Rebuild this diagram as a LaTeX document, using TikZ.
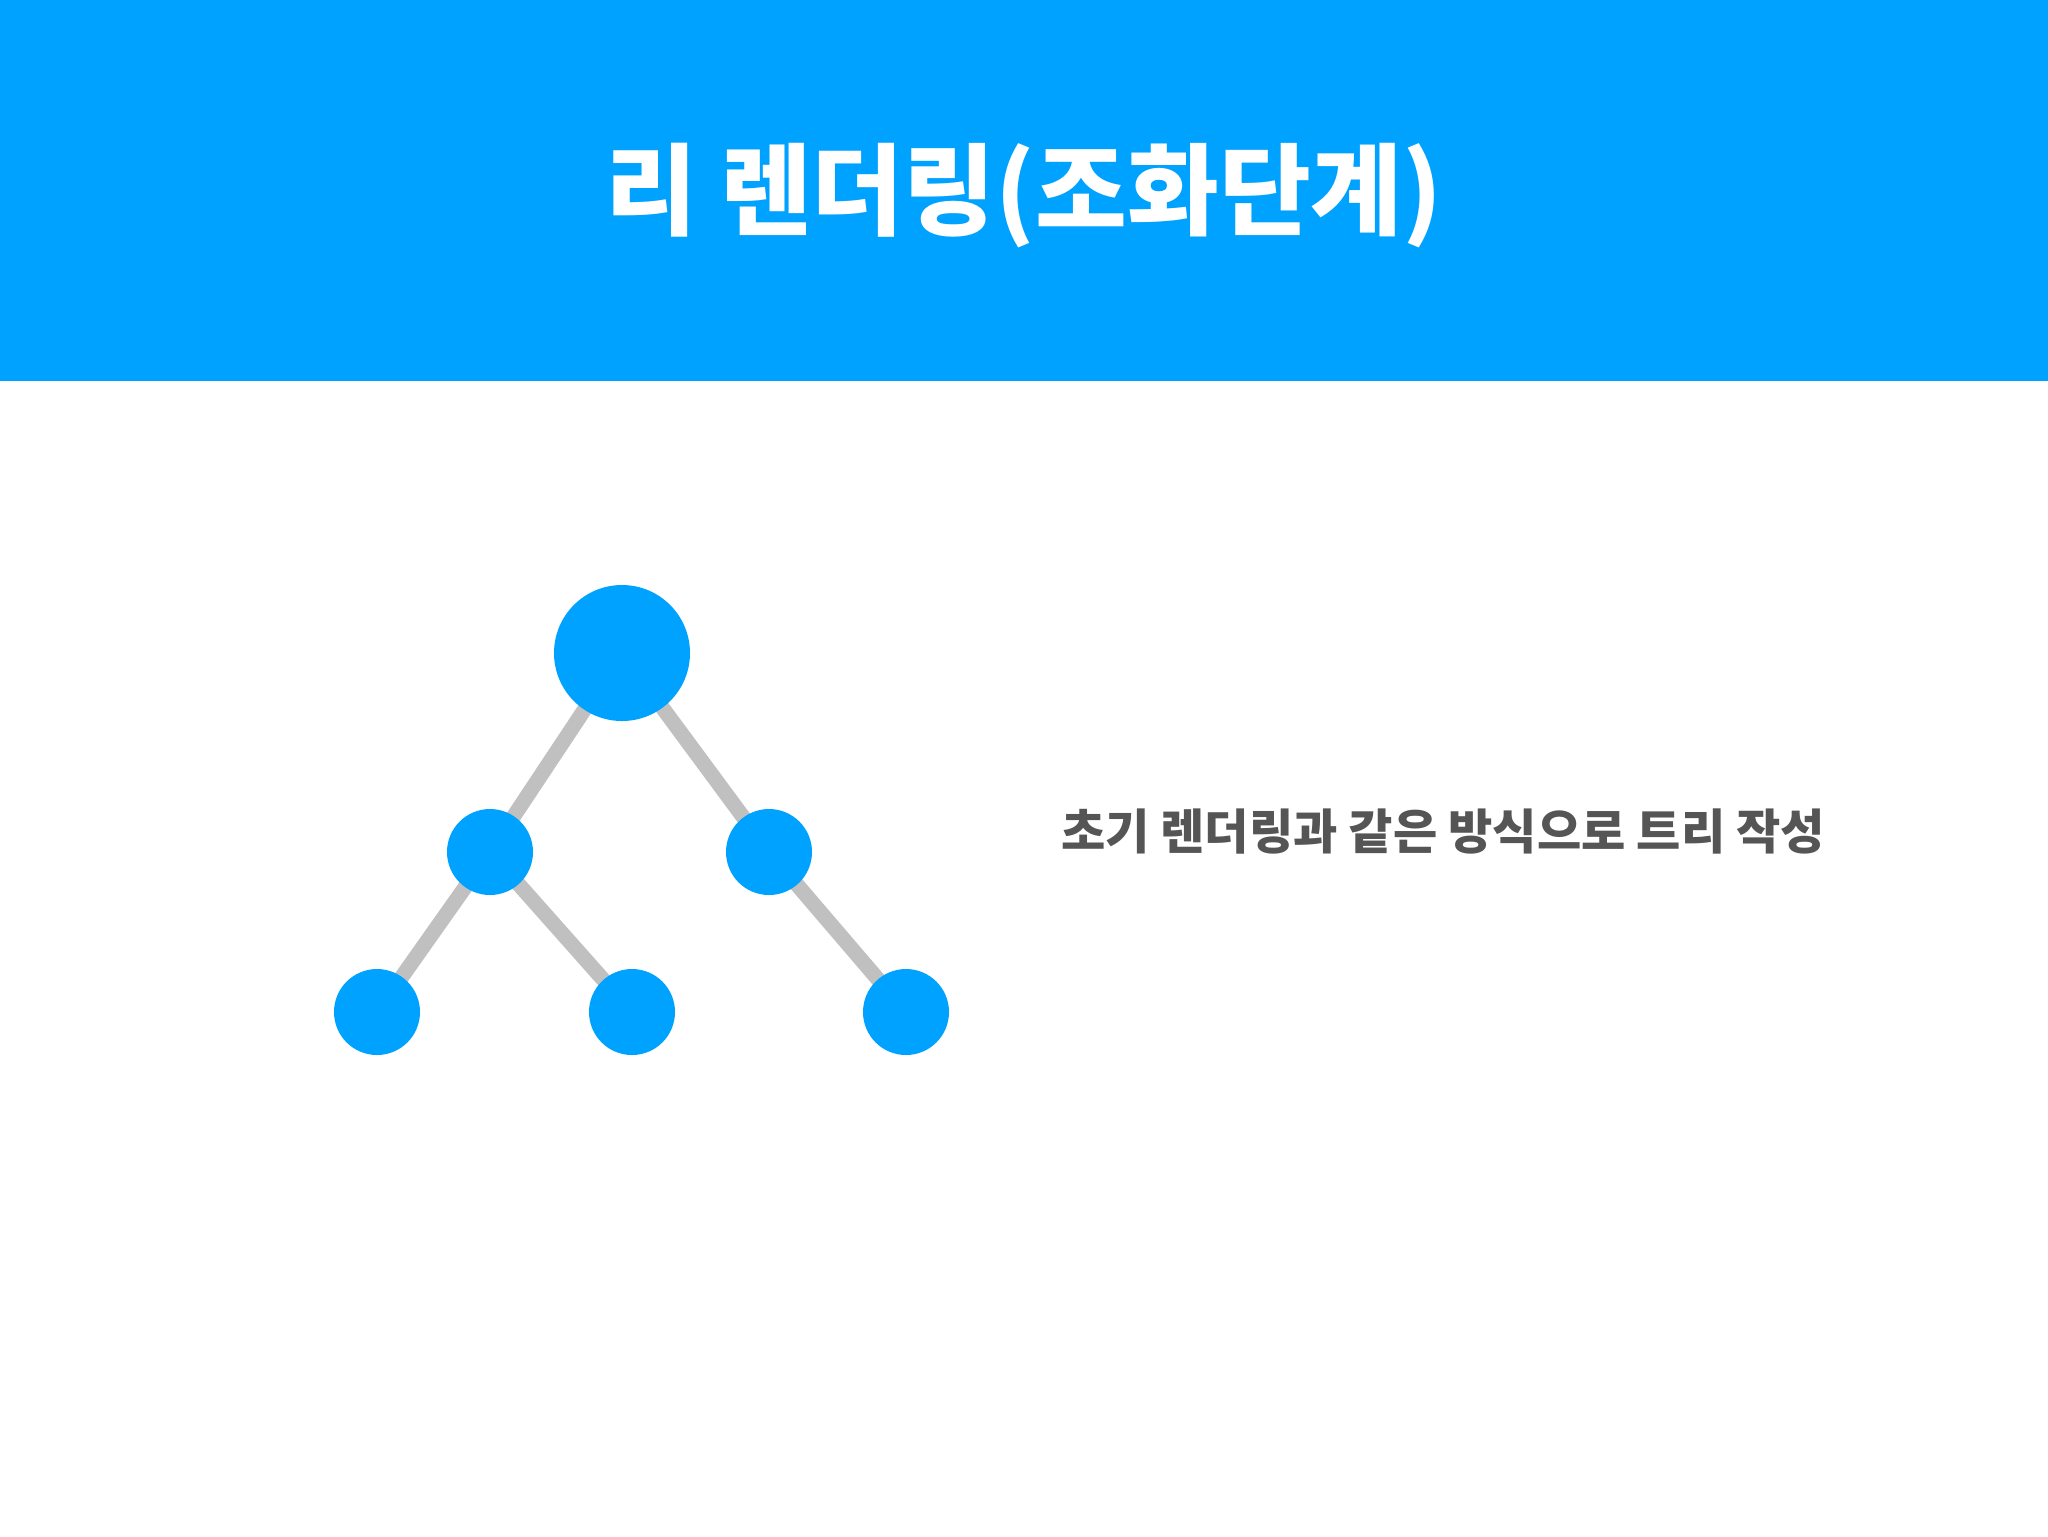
\documentclass[tikz,border=0pt]{standalone}
\usepackage{fontspec}
\setmainfont{Noto Sans CJK KR}
\usepackage{xcolor}
\definecolor{reactblue}{RGB}{0,162,255}
\definecolor{edgegray}{RGB}{192,192,192}
\definecolor{textgray}{RGB}{85,85,85}
\tikzset{
  treenode/.style = {circle, inner sep=0pt, fill=reactblue, draw=none},
  big_n/.style = {treenode, minimum size=13.6mm},% racine
  small_n/.style = {treenode, minimum size=8.6mm},% noeud
  tree_e/.style = {draw=edgegray, line width=1.5mm},% lien
  titletext/.style = {font=\bfseries\fontsize{28.4}{34}\selectfont, text=white},
  bodytext/.style = {font=\bfseries\fontsize{13.7}{16}\selectfont, text=textgray}
}

\begin{document}
\begin{tikzpicture}[x=0.1mm,y=-0.1mm]
    \useasboundingbox (0,0) rectangle (2048,1536);
    \fill[white] (0,0) rectangle (2048,1536);
    \fill[reactblue] (0,0) rectangle (2048,381);
    \node[titletext] (title) at (1024,196) {리 렌더링(조화단계)};
    \node[bodytext] (desc) at (1443,831) {초기 렌더링과 같은 방식으로 트리 작성};

    \coordinate (p_r) at (622,653);
    \coordinate (p_a) at (490,852);
    \coordinate (p_b) at (769,852);
    \coordinate (p_c) at (377,1012);
    \coordinate (p_d) at (632,1012);
    \coordinate (p_e) at (906,1012);
    % liens d'abord, sous les noeuds
    \draw[tree_e] (p_r) -- (p_a);
    \draw[tree_e] (p_r) -- (p_b);
    \draw[tree_e] (p_a) -- (p_c);
    \draw[tree_e] (p_a) -- (p_d);
    \draw[tree_e] (p_b) -- (p_e);
    \node[big_n] (root) at (p_r) {};
    \node[small_n] (left) at (p_a) {};
    \node[small_n] (right) at (p_b) {};
    \node[small_n] (leaf1) at (p_c) {};
    \node[small_n] (leaf2) at (p_d) {};
    \node[small_n] (leaf3) at (p_e) {};
\end{tikzpicture}
\end{document}
